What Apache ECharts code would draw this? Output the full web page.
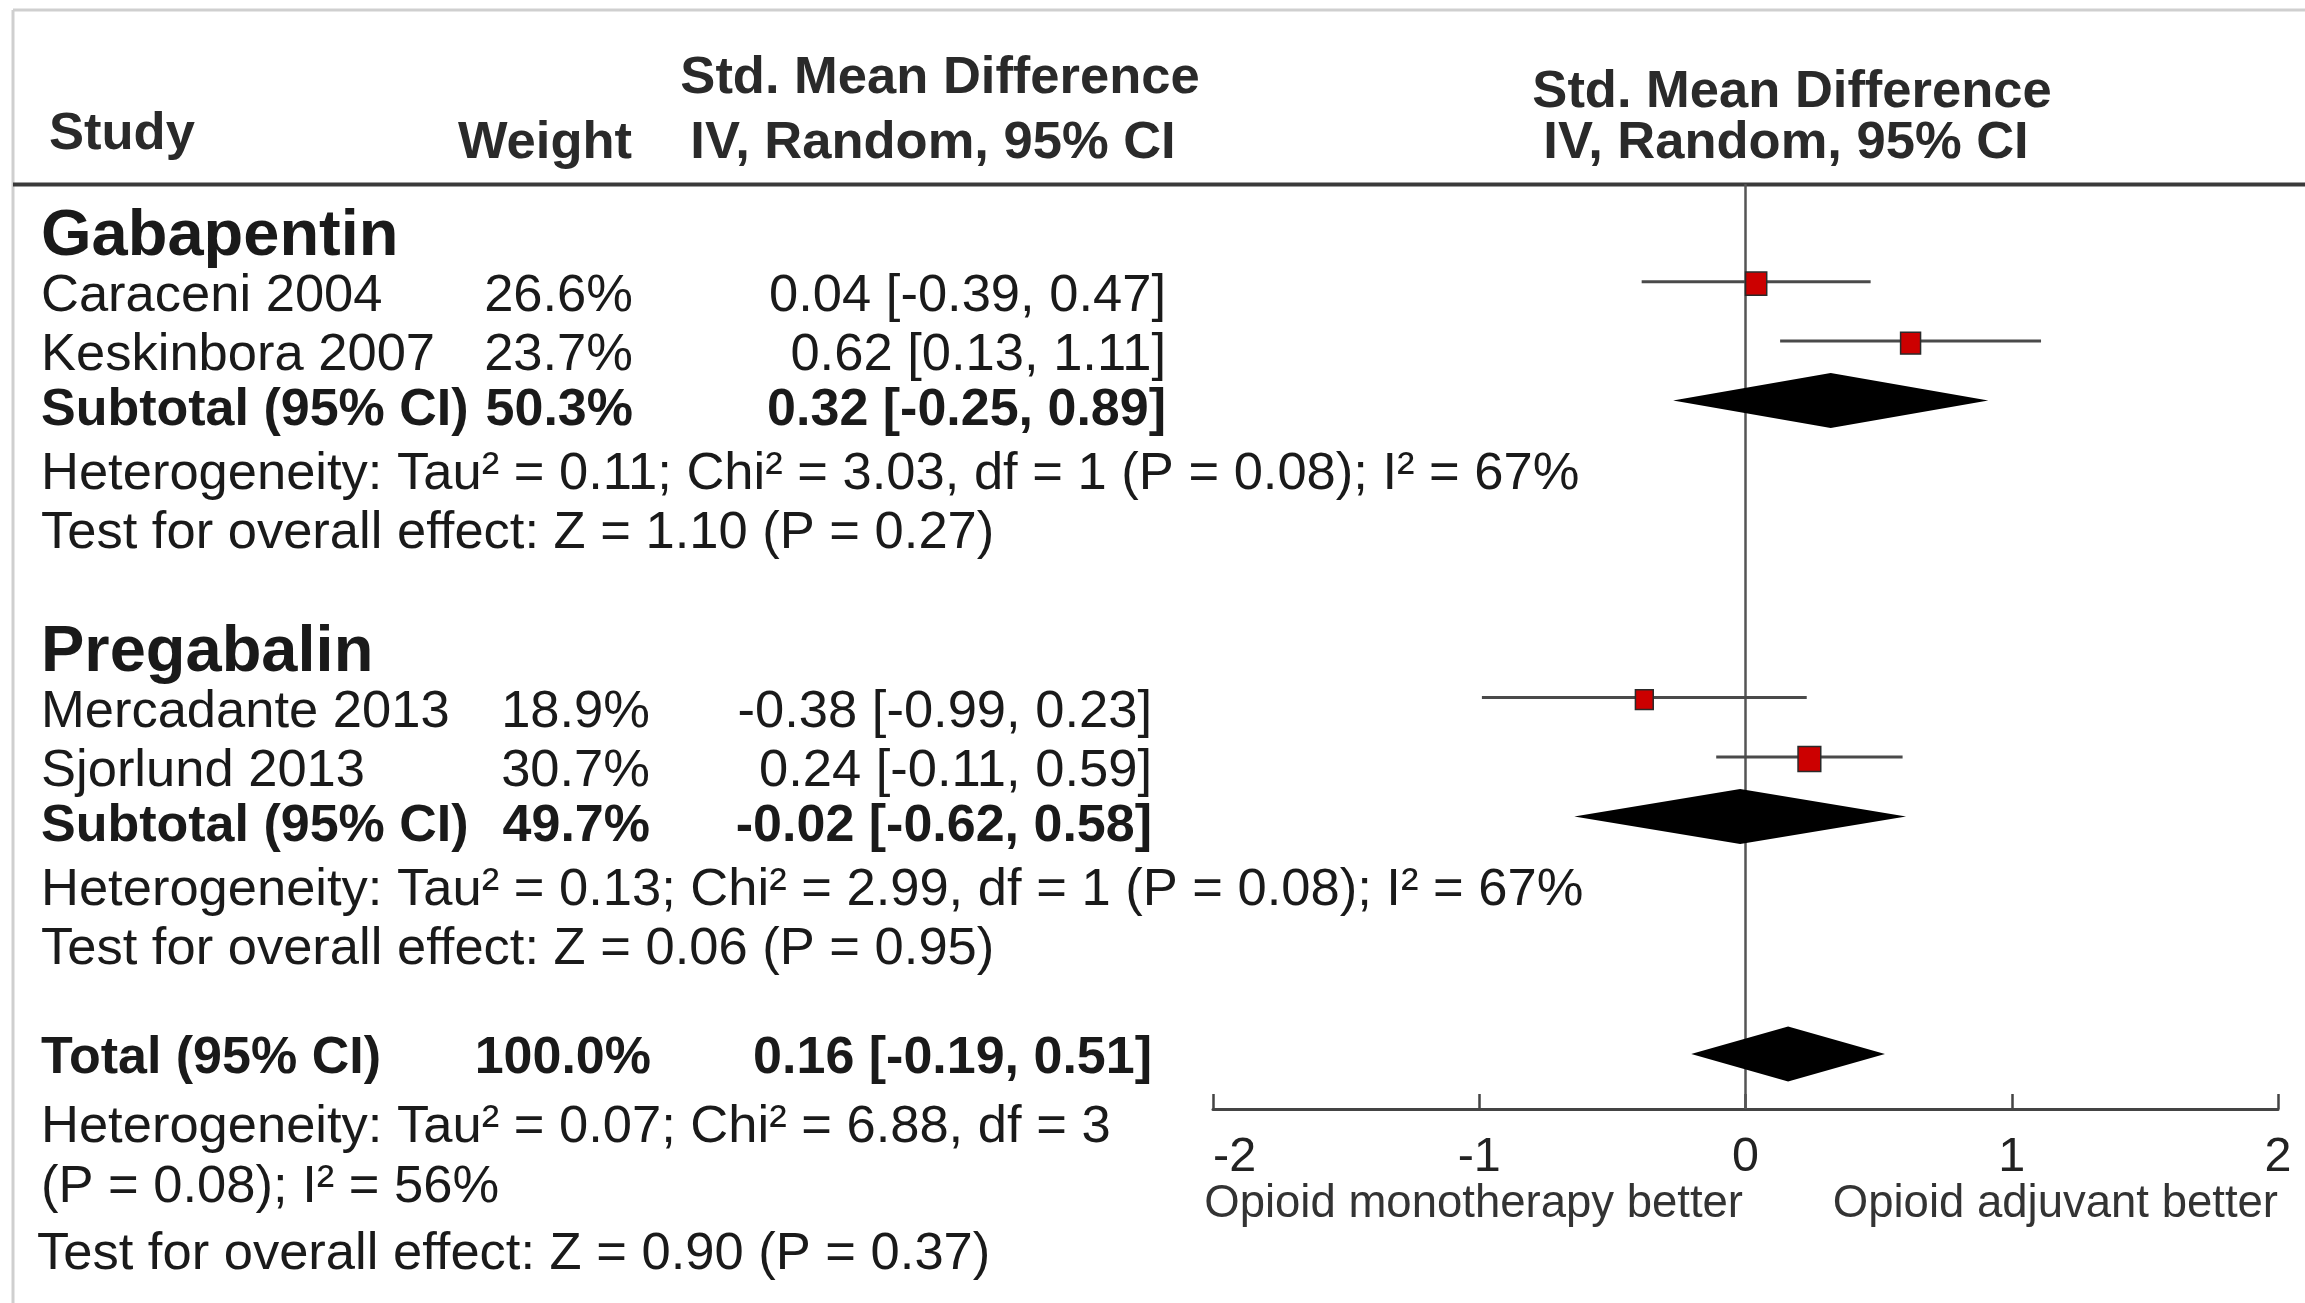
<!DOCTYPE html>
<html><head><meta charset="utf-8">
<script src="https://cdn.jsdelivr.net/npm/echarts@6/dist/echarts.min.js"></script>
<style>html,body{margin:0;padding:0;background:#fff}#c{width:2305px;height:1303px}</style>
</head><body><div id="c"></div>
<script>
// ---------------- data ----------------
const groupNames = ['Gabapentin', 'Pregabalin'];
const studyNames = ['Caraceni 2004', 'Keskinbora 2007', 'Mercadante 2013', 'Sjorlund 2013'];
const studyGroup = [0, 0, 1, 1];
const studyWeight = [26.6, 23.7, 18.9, 30.7];
const studySMD = [0.04, 0.62, -0.38, 0.24];
const studyLow = [-0.39, 0.13, -0.99, -0.11];
const studyHigh = [0.47, 1.11, 0.23, 0.59];
const subtotalWeight = [50.3, 49.7];
const subtotalSMD = [0.32, -0.02];
const subtotalLow = [-0.25, -0.62];
const subtotalHigh = [0.89, 0.58];
const subtotalHeterogeneity = [
  'Heterogeneity: Tau² = 0.11; Chi² = 3.03, df = 1 (P = 0.08); I² = 67%',
  'Heterogeneity: Tau² = 0.13; Chi² = 2.99, df = 1 (P = 0.08); I² = 67%'
];
const subtotalTest = [
  'Test for overall effect: Z = 1.10 (P = 0.27)',
  'Test for overall effect: Z = 0.06 (P = 0.95)'
];
const totalWeight = [100.0];
const totalSMD = [0.16];
const totalLow = [-0.19];
const totalHigh = [0.51];
const totalHeterogeneity = ['Heterogeneity: Tau² = 0.07; Chi² = 6.88, df = 3', '(P = 0.08); I² = 56%'];
const totalTest = ['Test for overall effect: Z = 0.90 (P = 0.37)'];
const xTickValues = [-2, -1, 0, 1, 2];
const favoursLabels = ['Opioid monotherapy better', 'Opioid adjuvant better'];
const headerStudy = 'Study';
const headerWeight = 'Weight';
const headerEffect = ['Std. Mean Difference', 'IV, Random, 95% CI'];

// ---------------- layout ----------------
const FONT = '"Liberation Sans", Arial, sans-serif';
const ROW0 = 222.3, ROW_PX = 59.41;
const GRID_TOP = 184, AXIS_Y = 1109, X_LEFT = 1213, X_RIGHT = 2278;
const Y_MIN = (GRID_TOP - ROW0) / ROW_PX;
const Y_MAX = (AXIS_Y - ROW0) / ROW_PX;
const TEXT_DY = 14.5;
const KIND_DY = { subtotal: -4, total: -10, heading: 0, study: 0, note: 0 };
const LAST_DY = 8;
const STUDY_X = 41;
const WEIGHT_RIGHT = [633, 650, 651];
const EFFECT_RIGHT = [1166, 1152, 1152];
const TEXT_COLOR = '#1a1a1a';
const F_REG = '52.5px ' + FONT;
const F_BOLD = 'bold 52px ' + FONT;
const F_HEAD = 'bold 65px ' + FONT;
const F_HDR = 'bold 52.5px ' + FONT;

const fmtW = w => w.toFixed(1) + '%';
const fmtE = (e, l, h) => e.toFixed(2) + ' [' + l.toFixed(2) + ', ' + h.toFixed(2) + ']';

// ---------------- rows ----------------
const rows = [];
groupNames.forEach((g, gi) => {
  rows.push({ kind: 'heading', text: g });
  studyNames.forEach((s, si) => { if (studyGroup[si] === gi) rows.push({ kind: 'study', idx: si, sec: gi }); });
  rows.push({ kind: 'subtotal', idx: gi, sec: gi });
  rows.push({ kind: 'note', text: subtotalHeterogeneity[gi] });
  rows.push({ kind: 'note', text: subtotalTest[gi] });
  rows.push({ kind: 'blank' });
});
rows.push({ kind: 'total', idx: 0, sec: 2 });
totalHeterogeneity.forEach(t => rows.push({ kind: 'note', text: t }));
totalTest.forEach(t => rows.push({ kind: 'note', text: t, last: true }));

const studyData = [];
const diamondData = [];
rows.forEach((r, i) => {
  if (r.kind === 'study') studyData.push([studySMD[r.idx], i, studyLow[r.idx], studyHigh[r.idx], studyWeight[r.idx]]);
  if (r.kind === 'subtotal') diamondData.push([subtotalSMD[r.idx], i, subtotalLow[r.idx], subtotalHigh[r.idx]]);
  if (r.kind === 'total') diamondData.push([totalSMD[r.idx], i, totalLow[r.idx], totalHigh[r.idx]]);
});

// ---------------- render functions ----------------
function renderZero(params, api) {
  const a = api.coord([0, Y_MIN]), b = api.coord([0, Y_MAX]);
  return { type: 'line', shape: { x1: a[0], y1: a[1], x2: b[0], y2: b[1] },
    style: { stroke: '#555', lineWidth: 2.5 } };
}
function renderStudy(params, api) {
  const row = api.value(1);
  const c = api.coord([api.value(0), row]);
  const lo = api.coord([api.value(2), row]);
  const hi = api.coord([api.value(3), row]);
  const side = 4.1 * Math.sqrt(api.value(4));
  const w = side, h = side * 1.1;
  return { type: 'group', children: [
    { type: 'line', shape: { x1: lo[0], y1: c[1], x2: hi[0], y2: c[1] }, style: { stroke: '#4a4a4a', lineWidth: 3 } },
    { type: 'rect', shape: { x: c[0] - w / 2, y: c[1] - h / 2 + 2, width: w, height: h },
      style: { fill: '#cc0000', stroke: '#2a2a2a', lineWidth: 1.5 } }
  ] };
}
function renderDiamond(params, api) {
  const row = api.value(1);
  const c = api.coord([api.value(0), row]);
  const lo = api.coord([api.value(2), row]);
  const hi = api.coord([api.value(3), row]);
  const hh = 26.5;
  return { type: 'polygon', shape: { points: [[lo[0], c[1]], [c[0], c[1] - hh], [hi[0], c[1]], [c[0], c[1] + hh]] },
    style: { fill: '#000', stroke: '#000', lineWidth: 2, lineJoin: 'miter' } };
}
function renderText(params, api) {
  const i = api.value(0);
  const r = rows[i];
  const y = api.coord([0, i])[1] + TEXT_DY + (KIND_DY[r.kind] || 0) + (r.last ? LAST_DY : 0);
  const T = (text, x, font, align) => ({ type: 'text',
    style: { text: text, x: x, y: y, font: font, fill: TEXT_COLOR, textAlign: align, textVerticalAlign: 'middle' } });
  const kids = [];
  if (r.kind === 'heading') kids.push(T(r.text, STUDY_X, F_HEAD, 'left'));
  else if (r.kind === 'study') {
    kids.push(T(studyNames[r.idx], STUDY_X, F_REG, 'left'));
    kids.push(T(fmtW(studyWeight[r.idx]), WEIGHT_RIGHT[r.sec], F_REG, 'right'));
    kids.push(T(fmtE(studySMD[r.idx], studyLow[r.idx], studyHigh[r.idx]), EFFECT_RIGHT[r.sec], F_REG, 'right'));
  } else if (r.kind === 'subtotal') {
    kids.push(T('Subtotal (95% CI)', STUDY_X, F_BOLD, 'left'));
    kids.push(T(fmtW(subtotalWeight[r.idx]), WEIGHT_RIGHT[r.sec], F_BOLD, 'right'));
    kids.push(T(fmtE(subtotalSMD[r.idx], subtotalLow[r.idx], subtotalHigh[r.idx]), EFFECT_RIGHT[r.sec], F_BOLD, 'right'));
  } else if (r.kind === 'total') {
    kids.push(T('Total (95% CI)', STUDY_X, F_BOLD, 'left'));
    kids.push(T(fmtW(totalWeight[r.idx]), WEIGHT_RIGHT[r.sec], F_BOLD, 'right'));
    kids.push(T(fmtE(totalSMD[r.idx], totalLow[r.idx], totalHigh[r.idx]), EFFECT_RIGHT[r.sec], F_BOLD, 'right'));
  } else if (r.kind === 'note') {
    kids.push(T(r.text, r.last ? STUDY_X - 4 : STUDY_X, F_REG, 'left'));
  }
  return { type: 'group', children: kids };
}

// ---------------- chart ----------------
const chart = echarts.init(document.getElementById('c'), null, { renderer: 'canvas' });
const gText = (text, x, y, font, align, fill) => ({ type: 'text', x: x, y: y, z: 10,
  style: { text: text, font: font, fill: fill || '#2a2a2a', textAlign: align, textVerticalAlign: 'middle' } });

chart.setOption({
  backgroundColor: '#fff',
  animation: false,
  grid: { left: X_LEFT, top: GRID_TOP, width: X_RIGHT - X_LEFT, height: AXIS_Y - GRID_TOP, containLabel: false },
  xAxis: {
    type: 'value', min: xTickValues[0], max: xTickValues[xTickValues.length - 1],
    interval: xTickValues[1] - xTickValues[0], position: 'bottom',
    axisLine: { show: true, onZero: false, lineStyle: { color: '#444', width: 3 } },
    axisTick: { show: true, inside: true, length: 15, lineStyle: { color: '#444', width: 2.5 } },
    axisLabel: { fontSize: 48.5, color: '#222', margin: 24, fontFamily: FONT, alignMinLabel: 'left' },
    splitLine: { show: false }
  },
  yAxis: { type: 'value', inverse: true, min: Y_MIN, max: Y_MAX, show: false },
  graphic: [
    { type: 'line', shape: { x1: 13, y1: 10, x2: 2305, y2: 10 }, style: { stroke: '#cfcfcf', lineWidth: 3 } },
    { type: 'line', shape: { x1: 13, y1: 10, x2: 13, y2: 1303 }, style: { stroke: '#cfcfcf', lineWidth: 3 } },
    { type: 'line', shape: { x1: 13, y1: 184.5, x2: 2305, y2: 184.5 }, style: { stroke: '#3a3a3a', lineWidth: 4 } },
    gText(headerStudy, 49, 135, F_HDR, 'left'),
    gText(headerWeight, 632, 144, F_HDR, 'right'),
    gText(headerEffect[0], 940, 79, F_HDR, 'center'),
    gText(headerEffect[1], 933, 144, F_HDR, 'center'),
    gText(headerEffect[0], 1792, 93, F_HDR, 'center'),
    gText(headerEffect[1], 1786, 144, F_HDR, 'center'),
    gText(favoursLabels[0], 1743, 1204, '45.5px ' + FONT, 'right', '#333'),
    gText(favoursLabels[1], 2278, 1204, '45.5px ' + FONT, 'right', '#333')
  ],
  series: [
    { type: 'custom', name: 'zero', renderItem: renderZero, data: [[0]], z: 1, silent: true },
    { type: 'custom', name: 'studies', renderItem: renderStudy, data: studyData, z: 3,
      encode: { x: [0, 2, 3], y: 1 } },
    { type: 'custom', name: 'pooled', renderItem: renderDiamond, data: diamondData, z: 3,
      encode: { x: [0, 2, 3], y: 1 } },
    { type: 'custom', name: 'table', renderItem: renderText, data: rows.map((r, i) => [i]), z: 4, clip: false,
      encode: { y: 0 } }
  ]
});
</script>
</body></html>
